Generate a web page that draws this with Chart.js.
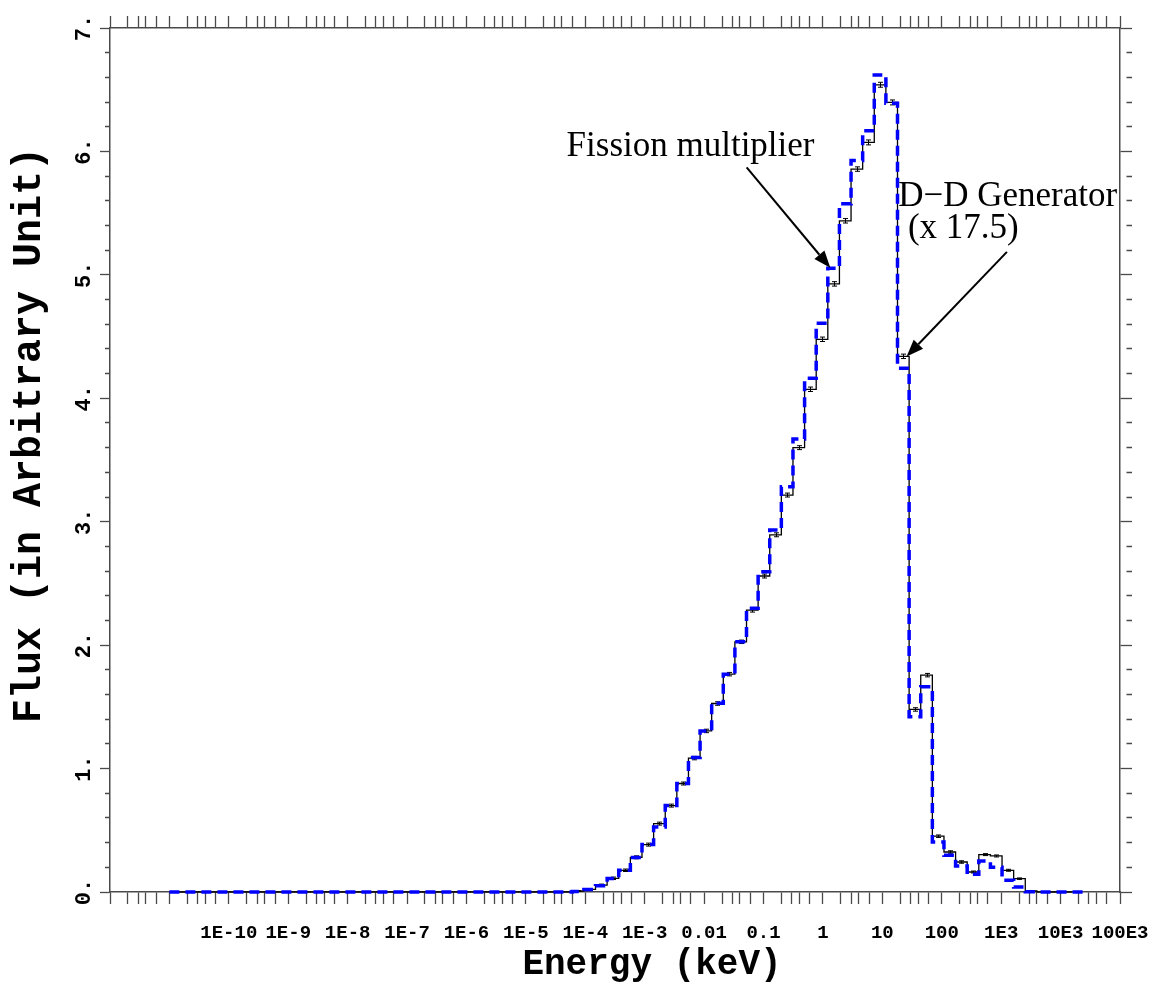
<!DOCTYPE html>
<html>
<head>
<meta charset="utf-8">
<script src="https://cdn.jsdelivr.net/npm/chart.js@4.4.1/dist/chart.umd.min.js"></script>
<style>
html,body{margin:0;padding:0;background:#fff;}
#wrap{width:1152px;height:994px;position:relative;}
</style>
</head>
<body>
<div id="wrap"><canvas id="c"></canvas></div>
<script>
// ---- data (energies in keV) ----
const spectrumStart = 1e-11;
const binEdges = [6.04e-5, 9.47e-5, 1.486e-4, 2.331e-4, 3.657e-4, 5.737e-4, 9.00e-4, 1.412e-3, 2.215e-3, 3.475e-3,
  5.451e-3, 8.551e-3, 1.340e-2, 2.102e-2, 3.296e-2, 5.170e-2, 8.110e-2, 0.1272, 0.1995, 0.3130,
  0.4909, 0.7700, 1.208, 1.895, 2.972, 4.662, 7.311, 11.47, 17.99, 28.22,
  44.26, 69.43, 108.9, 170.8, 267.9, 420.3, 659.2, 1034, 1622, 2544, 3990];
const fissionFlux = [0.008, 0.022, 0.056, 0.111, 0.176, 0.281, 0.384, 0.554, 0.700, 0.879,
  1.085, 1.305, 1.527, 1.765, 2.027, 2.284, 2.560, 2.894, 3.216, 3.600,
  4.073, 4.478, 4.927, 5.438, 5.857, 6.073, 6.540, 6.397, 4.340, 1.479,
  1.757, 0.452, 0.324, 0.243, 0.162, 0.303, 0.292, 0.176, 0.108, 0.008];
const fissionErr = [0.004, 0.006, 0.008, 0.010, 0.010, 0.012, 0.012, 0.012, 0.012, 0.012,
  0.014, 0.014, 0.014, 0.014, 0.014, 0.016, 0.016, 0.016, 0.016, 0.016,
  0.018, 0.018, 0.018, 0.018, 0.018, 0.020, 0.020, 0.020, 0.018, 0.014,
  0.014, 0.010, 0.010, 0.010, 0.008, 0.008, 0.008, 0.008, 0.006, 0.004];
const fissionEnd = 1.6e4;
const ddFlux = [0.005, 0.020, 0.050, 0.110, 0.176, 0.280, 0.384, 0.527, 0.700, 0.879,
  1.090, 1.305, 1.530, 1.765, 2.027, 2.298, 2.594, 2.932, 3.284, 3.670,
  4.162, 4.608, 5.054, 5.576, 5.927, 6.167, 6.620, 6.390, 4.243, 1.419,
  1.662, 0.405, 0.297, 0.211, 0.143, 0.251, 0.200, 0.095, 0.040, 0.003];
const ddEnd = 2.7e4;

const xDecadeExps = [-12,-11,-10,-9,-8,-7,-6,-5,-4,-3,-2,-1,0,1,2,3,4,5];
const xMinorMults = [2,3,4,6];
const xTickLabels = {"-10":"1E-10","-9":"1E-9","-8":"1E-8","-7":"1E-7","-6":"1E-6","-5":"1E-5","-4":"1E-4",
  "-3":"1E-3","-2":"0.01","-1":"0.1","0":"1","1":"10","2":"100","3":"1E3","4":"10E3","5":"100E3"};
const yTickLabels = ["0.","1.","2.","3.","4.","5.","6.","7."];
const yMinorStep = 0.2;
const xTitle = "Energy (keV)";
const yTitle = "Flux (in Arbitrary Unit)";

const annotationsText = [
  {text:"Fission multiplier", x:4.84e-5, y:5.96},
  {text:"D\u2212D Generator", x:18.5, y:5.554},
  {text:"(x 17.5)", x:26.9, y:5.30}
];
const annotationArrows = [
  {from:{x:0.052, y:5.87}, to:{x:1.33, y:5.057}},
  {from:{x:1250, y:5.186}, to:{x:25.6, y:4.338}}
];

// ---- build step series ----
function stepPoints(vals, endE){
  const pts = [{x:spectrumStart, y:0}];
  for (let i=0;i<vals.length;i++) pts.push({x:binEdges[i], y:vals[i]});
  const last = binEdges[binEdges.length-1];
  pts.push({x:last, y:vals[vals.length-1]});
  pts.push({x:last, y:0});
  pts.push({x:endE, y:0});
  return pts;
}

const AXIS_COLOR = '#4a4a4a';
const MONO = "'Liberation Mono', 'DejaVu Sans Mono', monospace";
const monoBold = (s)=>({family:MONO, size:s, weight:'bold'});

function xTicks(scale){
  const t = [];
  xDecadeExps.forEach(e=>{
    t.push({value:Math.pow(10,e)});
    if (e < 5) xMinorMults.forEach(m=>t.push({value:m*Math.pow(10,e)}));
  });
  t.sort((a,b)=>a.value-b.value);
  scale.ticks = t;
}
function xLabel(v){
  const l = Math.log10(v), r = Math.round(l);
  if (Math.abs(l-r) > 1e-6) return '';
  return xTickLabels[String(r)] || '';
}
function yTicks(scale){
  const t=[];
  for (let k=0;k<=35;k++) t.push({value:Math.round(k*yMinorStep*10)/10});
  scale.ticks=t;
}
const isMajorY = (v)=>Math.abs(v-Math.round(v))<1e-6;

const errorBars = {
  id:'errorBars',
  afterDatasetDraw(chart, args){
    if (args.index !== 1) return;
    const xs=chart.scales.x, ys=chart.scales.y, ctx=chart.ctx;
    ctx.save();
    ctx.strokeStyle='#000'; ctx.lineWidth=1;
    fissionFlux.forEach((v,i)=>{
      const xc = Math.round(xs.getPixelForValue(Math.sqrt(binEdges[i]*binEdges[i+1])))+0.5;
      const y1 = ys.getPixelForValue(v-fissionErr[i]);
      const y2 = ys.getPixelForValue(v+fissionErr[i]);
      ctx.beginPath();
      ctx.moveTo(xc,y1); ctx.lineTo(xc,y2);
      ctx.moveTo(xc-2.5,y1); ctx.lineTo(xc+2.5,y1);
      ctx.moveTo(xc-2.5,y2); ctx.lineTo(xc+2.5,y2);
      ctx.stroke();
    });
    ctx.restore();
  }
};

// axis titles (placed like the original: slightly off the frame centre)
const axisTitles = {
  id:'axisTitles',
  afterDraw(chart){
    const ca = chart.chartArea, ctx = chart.ctx;
    ctx.save();
    ctx.fillStyle = '#000';
    ctx.font = "bold 36px " + MONO;
    ctx.textAlign = 'center'; ctx.textBaseline = 'middle';
    ctx.fillText(xTitle, (ca.left+ca.right)/2 + 37, chart.height - 29);
    ctx.translate(30, (ca.top+ca.bottom)/2 - 25);
    ctx.rotate(-Math.PI/2);
    ctx.font = "bold 40px " + MONO;
    ctx.fillText(yTitle, 0, 0);
    ctx.restore();
  }
};

const annotate = {
  id:'annotate',
  afterDraw(chart){
    const xs=chart.scales.x, ys=chart.scales.y, ctx=chart.ctx;
    ctx.save();
    ctx.fillStyle='#000';
    ctx.font = "35px 'Liberation Serif', 'Times New Roman', serif";
    ctx.textAlign='left'; ctx.textBaseline='alphabetic';
    annotationsText.forEach(a=>{
      ctx.fillText(a.text, xs.getPixelForValue(a.x), ys.getPixelForValue(a.y));
    });
    ctx.strokeStyle='#000'; ctx.lineWidth=2;
    annotationArrows.forEach(a=>{
      const x1=xs.getPixelForValue(a.from.x), y1=ys.getPixelForValue(a.from.y);
      const x2=xs.getPixelForValue(a.to.x), y2=ys.getPixelForValue(a.to.y);
      const ang=Math.atan2(y2-y1,x2-x1), L=17, W=6.5;
      const bx=x2-L*Math.cos(ang), by=y2-L*Math.sin(ang);
      ctx.beginPath(); ctx.moveTo(x1,y1); ctx.lineTo(bx,by); ctx.stroke();
      ctx.beginPath();
      ctx.moveTo(x2,y2);
      ctx.lineTo(bx+W*Math.sin(ang), by-W*Math.cos(ang));
      ctx.lineTo(bx-W*Math.sin(ang), by+W*Math.cos(ang));
      ctx.closePath(); ctx.fill();
    });
    ctx.restore();
  }
};

const commonX = {
  type:'logarithmic', min:1e-12, max:1e5,
  afterBuildTicks: xTicks,
  border:{display:true, color:AXIS_COLOR, width:1.5},
  grid:{drawOnChartArea:false, drawTicks:true, tickLength:12, tickColor:AXIS_COLOR, tickWidth:1.3}
};
const commonY = {
  type:'linear', min:0, max:7,
  afterBuildTicks: yTicks,
  border:{display:true, color:AXIS_COLOR, width:1.5},
};
function noSidePad(s){ s.paddingLeft=0; s.paddingRight=0; s.paddingTop=0; s.paddingBottom=0; }

new Chart(document.getElementById('c'), {
  type:'line',
  data:{datasets:[
    {label:'D\u2212D Generator (x 17.5)', data:stepPoints(ddFlux, ddEnd), stepped:'before',
      borderColor:'#0000ff', borderWidth:3.5, borderDash:[10,6], pointRadius:0, fill:false, clip:10, xAxisID:'x', yAxisID:'y'},
    {label:'Fission multiplier', data:stepPoints(fissionFlux, fissionEnd), stepped:'before',
      borderColor:'#000000', borderWidth:1.3, pointRadius:0, fill:false, clip:10, xAxisID:'x', yAxisID:'y'}
  ]},
  options:{
    responsive:true, maintainAspectRatio:false, animation:false,
    layout:{padding:0},
    plugins:{legend:{display:false}, tooltip:{enabled:false}},
    scales:{
      x:Object.assign({}, commonX, {
        position:'bottom',
        ticks:{autoSkip:false, maxRotation:0, minRotation:0, padding:18, color:'#000', font:monoBold(19), callback:xLabel},
        title:{display:false, text:xTitle},
        afterFit(s){ s.height = 102; noSidePad(s); }
      }),
      x2:Object.assign({}, commonX, {
        position:'top',
        ticks:{autoSkip:false, maxRotation:0, minRotation:0, callback:()=>''},
        afterFit(s){ s.height = 28; noSidePad(s); }
      }),
      y:Object.assign({}, commonY, {
        position:'left',
        ticks:{autoSkip:false, minRotation:90, maxRotation:90, crossAlign:'center', padding:2, color:'#000', font:monoBold(22),
          callback:(v)=>isMajorY(v)? yTickLabels[Math.round(v)] : ''},
        grid:{drawOnChartArea:false, drawTicks:true, tickLength:10, tickColor:AXIS_COLOR, tickWidth:1.3,
          tickBorderDash:(ctx)=> (ctx.tick && isMajorY(ctx.tick.value)) ? [] : [0,5,5,100]},
        title:{display:false, text:yTitle},
        afterFit(s){ s.width = 110; noSidePad(s); }
      }),
      y2:Object.assign({}, commonY, {
        position:'right',
        ticks:{autoSkip:false, callback:()=>''},
        grid:{drawOnChartArea:false, drawTicks:true, tickLength:12, tickColor:AXIS_COLOR, tickWidth:1.3,
          tickBorderDash:(ctx)=> (ctx.tick && isMajorY(ctx.tick.value)) ? [] : [0,6,6,100]},
        afterFit(s){ s.width = 32; noSidePad(s); }
      })
    }
  },
  plugins:[errorBars, axisTitles, annotate]
});
</script>
</body>
</html>
